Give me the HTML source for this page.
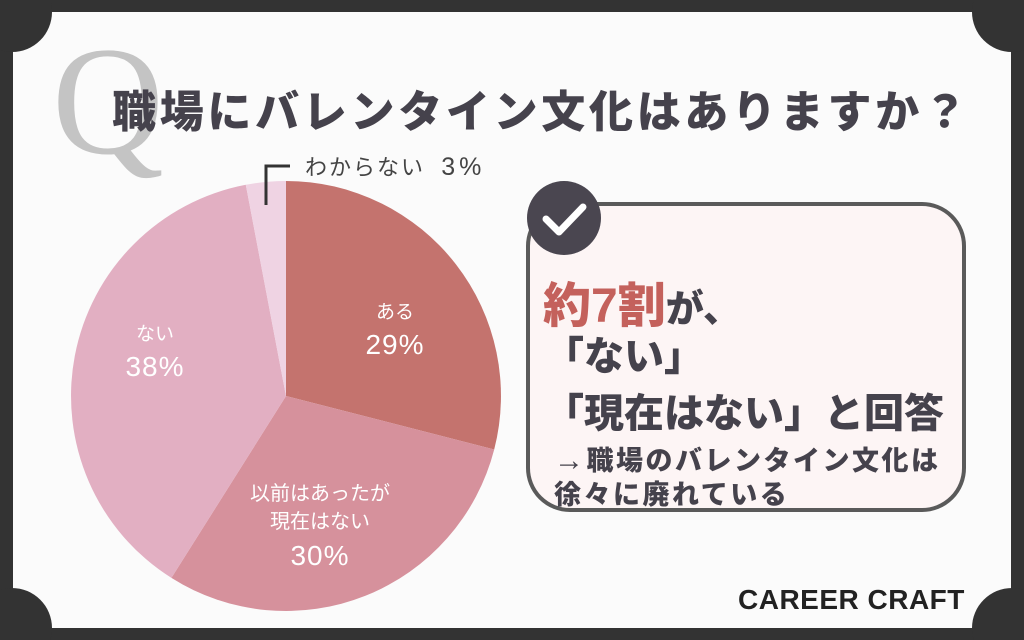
<!DOCTYPE html><html><head><meta charset="utf-8"><style>
html,body{margin:0;width:1024px;height:640px;overflow:hidden}
body{background:#333;position:relative;font-family:"Liberation Sans","Noto Sans CJK JP",sans-serif}
.in{position:absolute;left:13px;top:12px;width:998px;height:616px;background:#fbfbfb}
.c{position:absolute;width:80px;height:80px;border-radius:50%;background:#333}
.t{position:absolute;white-space:nowrap;font-weight:900;color:#45424c}
</style></head><body>
<div class="in"></div>
<div class="c" style="left:-28px;top:-28px"></div>
<div class="c" style="right:-28px;top:-28px"></div>
<div class="c" style="left:-28px;bottom:-28px"></div>
<div class="c" style="right:-28px;bottom:-28px"></div>
<div style="position:absolute;left:52px;top:24px;font-family:'Liberation Serif',serif;font-size:155px;color:#c4c4c4;line-height:1">Q</div>
<div class="t" style="left:112px;top:76px;font-size:44px;letter-spacing:3.7px">職場にバレンタイン文化はありますか？</div>
<svg style="position:absolute;left:0;top:0" width="1024" height="640">
<g transform="translate(286,396)">
<path d="M0 0 L0 -215 A215 215 0 0 1 208.2 53.5 Z" fill="#c4736e"/>
<path d="M0 0 L208.2 53.5 A215 215 0 0 1 -114.6 181.9 Z" fill="#d6919c"/>
<path d="M0 0 L-114.6 181.9 A215 215 0 0 1 -40.2 -211.2 Z" fill="#e2afc2"/>
<path d="M0 0 L-40.2 -211.2 A215 215 0 0 1 0 -215 Z" fill="#efd3e3"/>
</g>
<polyline points="266,205 266,166 290,166" fill="none" stroke="#333" stroke-width="3"/>
<rect x="528" y="204" width="436" height="306" rx="42" fill="#fdf5f5" stroke="#5a5a5a" stroke-width="4"/>
<circle cx="564" cy="218" r="37" fill="#4a4650"/>
<polyline points="546,219 559,232 583,207" fill="none" stroke="#fff" stroke-width="7" stroke-linecap="round" stroke-linejoin="round"/>
</svg>
<div style="position:absolute;left:305px;top:150px;font-size:22px;color:#444;letter-spacing:2px">わからない &nbsp;<span style="font-size:25px;letter-spacing:4px">3%</span></div>
<div style="position:absolute;left:340px;top:300px;width:110px;text-align:center;color:#fff;font-size:19px;line-height:1.35">ある<br><span style="font-size:28px;letter-spacing:1px">29%</span></div>
<div style="position:absolute;left:100px;top:322px;width:110px;text-align:center;color:#fff;font-size:19px;line-height:1.35">ない<br><span style="font-size:28px;letter-spacing:1px">38%</span></div>
<div style="position:absolute;left:230px;top:480px;width:180px;text-align:center;color:#fff;font-size:20px;line-height:1.4">以前はあったが<br>現在はない<br><span style="font-size:28px;letter-spacing:1px">30%</span></div>
<div class="t" style="left:543px;top:266px;font-size:38px"><span style="color:#c4615c;font-size:48px">約7割</span>が、</div>
<div class="t" style="left:544px;top:324px;font-size:40px">「ない」</div>
<div class="t" style="left:544px;top:381px;font-size:40px">「現在はない」と回答</div>
<div class="t" style="left:554px;top:444px;font-size:27px;line-height:34px;letter-spacing:2.5px"><span style="font-size:30px">→</span>職場のバレンタイン文化は<br>徐々に廃れている</div>
<div class="t" style="left:738px;top:584px;font-size:28px;color:#222;letter-spacing:0.5px">CAREER CRAFT</div>
</body></html>
